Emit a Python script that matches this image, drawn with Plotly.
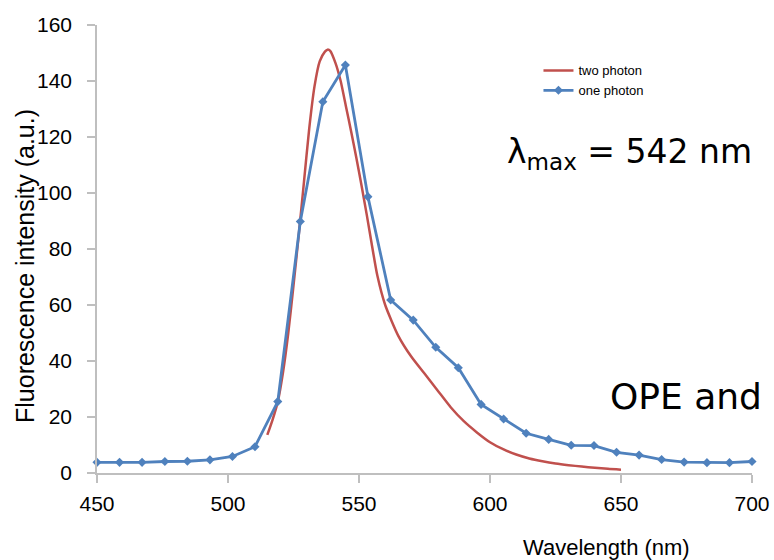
import plotly.graph_objects as go

# One-photon excitation spectrum (measured points)
one_x = [450.0, 458.6, 467.2, 475.9, 484.5, 493.1, 501.7, 510.3, 519.0, 527.6,
         536.2, 544.8, 553.4, 562.1, 570.7, 579.3, 587.9, 596.6, 605.2, 613.8,
         622.4, 631.0, 639.7, 648.3, 656.9, 665.5, 674.1, 682.8, 691.4, 700.0]
one_y = [3.8, 3.8, 3.8, 4.1, 4.2, 4.7, 5.9, 9.4, 25.5, 89.8,
         132.6, 145.7, 98.7, 61.8, 54.6, 44.9, 37.6, 24.5, 19.3, 14.2,
         12.0, 9.9, 9.8, 7.4, 6.4, 4.8, 3.9, 3.7, 3.7, 4.1]

# Two-photon excitation spectrum (smooth curve)
two_x = [515, 517, 519, 521, 523, 525, 527, 529, 531, 533, 535, 537, 538, 539,
         541, 543, 545, 547, 549, 551, 553, 555, 557, 560, 565, 570, 575, 580,
         585, 590, 595, 600, 605, 610, 615, 620, 625, 630, 635, 640, 645, 650]
two_y = [13.6, 19.0, 25.5, 36.0, 50.0, 67.0, 85.0, 104.0, 123.0, 138.0, 147.0,
         150.5, 151.2, 150.8, 146.5, 140.0, 131.0, 122.0, 112.5, 102.5, 92.0,
         81.0, 70.5, 60.0, 49.0, 41.5, 35.5, 29.5, 23.5, 18.5, 14.5, 11.0,
         8.5, 6.6, 5.2, 4.2, 3.4, 2.8, 2.3, 1.9, 1.5, 1.2]

x_ticks = [450, 500, 550, 600, 650, 700]
y_ticks = [0, 20, 40, 60, 80, 100, 120, 140, 160]

RED = "#C0504D"
BLUE = "#4F81BD"
AXIS = "#BFBFBF"
SANS = "Liberation Sans, Arial, sans-serif"
WIDE = "DejaVu Sans, sans-serif"
TICK_FONT = dict(family=SANS, size=21, color="#000000")

fig = go.Figure()
fig.add_trace(go.Scatter(
    x=two_x, y=two_y, mode="lines", name="two photon",
    line=dict(color=RED, width=2.5, shape="spline", smoothing=0.6),
    cliponaxis=False,
))
fig.add_trace(go.Scatter(
    x=one_x, y=one_y, mode="lines+markers", name="one photon",
    line=dict(color=BLUE, width=2.8),
    marker=dict(symbol="diamond", size=7, color=BLUE),
    cliponaxis=False,
))

fig.update_layout(
    width=774, height=560,
    margin=dict(l=97, r=22, t=25, b=87),
    plot_bgcolor="white", paper_bgcolor="white",
    showlegend=True,
    legend=dict(
        x=0.674, y=0.932, xanchor="left", yanchor="top",
        font=dict(family=SANS, size=13, color="#000000"),
        bgcolor="rgba(0,0,0,0)", itemwidth=30, tracegroupgap=0,
    ),
    xaxis=dict(
        range=[450, 700], tickvals=x_ticks, ticktext=[str(v) for v in x_ticks],
        showline=True, linecolor=AXIS, linewidth=1.5,
        ticks="outside", ticklen=8, tickcolor=AXIS, tickwidth=1.5,
        showgrid=False, zeroline=False, tickfont=TICK_FONT,
        ticklabelstandoff=3, automargin=False,
    ),
    yaxis=dict(
        range=[0, 160], tickvals=y_ticks, ticktext=[str(v) for v in y_ticks],
        showline=True, linecolor=AXIS, linewidth=1.5,
        ticks="outside", ticklen=8, tickcolor=AXIS, tickwidth=1.5,
        showgrid=False, zeroline=False, tickfont=TICK_FONT,
        ticklabelstandoff=11, automargin=False,
    ),
    annotations=[
        dict(text="Fluorescence intensity (a.u.)", xref="paper", yref="paper",
             x=(25 - 97) / 655, y=(473 - 266) / 448, xanchor="center", yanchor="middle",
             textangle=-90, showarrow=False,
             font=dict(family=SANS, size=25, color="#000000")),
        dict(text="Wavelength (nm)", xref="paper", yref="paper",
             x=(606 - 97) / 655, y=-(547 - 473) / 448, xanchor="center", yanchor="middle",
             showarrow=False,
             font=dict(family=SANS, size=22, color="#000000")),
        dict(text="λ<sub>max</sub> = 542 nm", xref="paper", yref="paper",
             x=(754 - 97) / 655, y=(473 - 153) / 448, xanchor="right", yanchor="middle",
             showarrow=False,
             font=dict(family=WIDE, size=33, color="#000000")),
        dict(text="OPE and", xref="paper", yref="paper",
             x=(764 - 97) / 655, y=(473 - 396) / 448, xanchor="right", yanchor="middle",
             showarrow=False,
             font=dict(family=WIDE, size=36, color="#000000")),
    ],
)

fig.write_html(
    "out.html",
    config={"displayModeBar": False},
    post_script="document.body.style.margin='0';document.body.style.overflow='hidden';",
)
